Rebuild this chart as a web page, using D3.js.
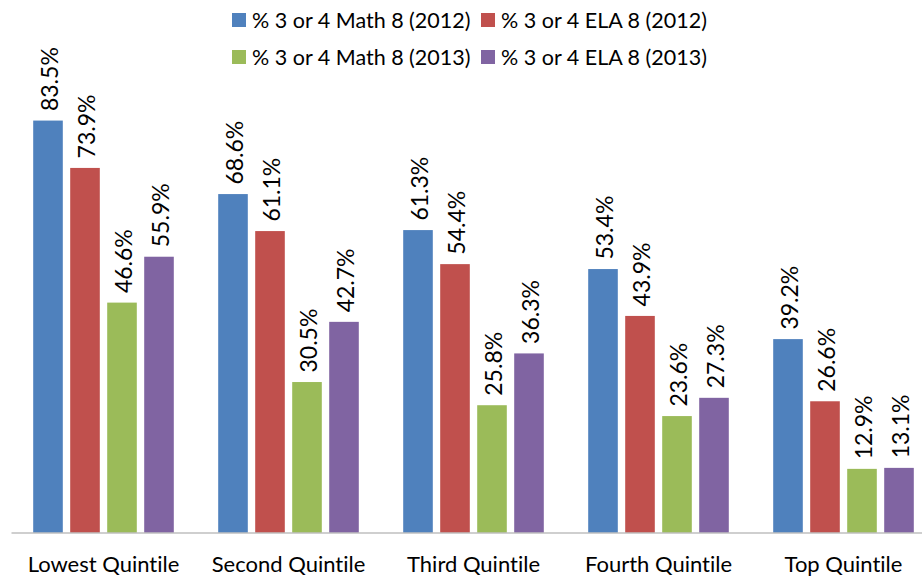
<!DOCTYPE html>
<html>
<head>
<meta charset="utf-8">
<script src="https://cdn.jsdelivr.net/npm/d3@7"></script>
<style>
  html, body { margin: 0; padding: 0; background: #fff; }
  svg { display: block; font-family: Lato, "Open Sans", sans-serif; font-variant-ligatures: none; font-feature-settings: "liga" 0, "clig" 0; }
  svg text { font-variant-ligatures: none; font-feature-settings: "liga" 0, "clig" 0; }
</style>
</head>
<body>
<svg id="chart" width="922" height="578"></svg>
<script>
const categories = ["Lowest Quintile", "Second Quintile", "Third Quintile", "Fourth Quintile", "Top Quintile"];
const seriesNames = ["% 3 or 4 Math 8 (2012)", "% 3 or 4 ELA 8 (2012)", "% 3 or 4 Math 8 (2013)", "% 3 or 4 ELA 8 (2013)"];
const math2012 = [83.5, 68.6, 61.3, 53.4, 39.2];
const ela2012  = [73.9, 61.1, 54.4, 43.9, 26.6];
const math2013 = [46.6, 30.5, 25.8, 23.6, 12.9];
const ela2013  = [55.9, 42.7, 36.3, 27.3, 13.1];
const colors = ["#4F81BD", "#C0504D", "#9BBB59", "#8064A2"];

const seriesValues = [math2012, ela2012, math2013, ela2013];

const svg = d3.select("#chart");
const baseline = 532.5;

const x0 = d3.scaleBand().domain(categories).range([11, 936]).paddingInner(0).paddingOuter(0);
const x1 = d3.scaleBand().domain(d3.range(seriesNames.length))
  .range([18.5, x0.bandwidth() - 18.5]).paddingInner(0.2).paddingOuter(0.1);
const y = d3.scaleLinear().domain([0, 90]).range([baseline, 88.5]);

const fmt = v => v.toFixed(1) + "%";

// bars
const groups = svg.append("g").selectAll("g")
  .data(categories)
  .join("g")
  .attr("transform", d => `translate(${x0(d)},0)`);

groups.selectAll("rect")
  .data((c, ci) => seriesValues.map((vals, si) => ({ si, v: vals[ci] })))
  .join("rect")
  .attr("x", d => x1(d.si))
  .attr("width", x1.bandwidth())
  .attr("y", d => y(d.v))
  .attr("height", d => baseline - y(d.v))
  .attr("fill", d => colors[d.si]);

// value labels
groups.selectAll("text")
  .data((c, ci) => seriesValues.map((vals, si) => ({ si, v: vals[ci] })))
  .join("text")
  .attr("transform", d => `translate(${x1(d.si) + x1.bandwidth() / 2 + 1.5},${y(d.v) - 9.5}) rotate(-90)`)
  .attr("dy", "0.36em")
  .attr("text-anchor", "start")
  .attr("font-size", 23)
  .attr("fill", "#000")
  .text(d => fmt(d.v));

// x axis
const xAxis = d3.axisBottom(x0).tickSize(0).tickPadding(0);
const ax = svg.append("g").attr("transform", `translate(0,${baseline})`).call(xAxis);
ax.select(".domain").attr("stroke", "#A0A0A0").attr("stroke-width", 1.2);
ax.selectAll(".tick text")
  .attr("y", 39)
  .attr("dy", 0)
  .attr("font-size", 22)
  .attr("fill", "#000")
  .attr("font-family", "Lato, sans-serif");

// legend
const legendItems = [
  { i: 0, x: 232, y: 20 },
  { i: 1, x: 481, y: 20 },
  { i: 2, x: 232, y: 57 },
  { i: 3, x: 481, y: 57 }
];
const lg = svg.append("g").selectAll("g").data(legendItems).join("g")
  .attr("transform", d => `translate(${d.x},${d.y})`);
lg.append("rect").attr("x", 0).attr("y", -7).attr("width", 14).attr("height", 14)
  .attr("fill", d => colors[d.i]);
lg.append("text").attr("x", 20).attr("dy", "0.36em").attr("font-size", 21.5)
  .attr("fill", "#000").text(d => seriesNames[d.i]);
</script>
</body>
</html>
